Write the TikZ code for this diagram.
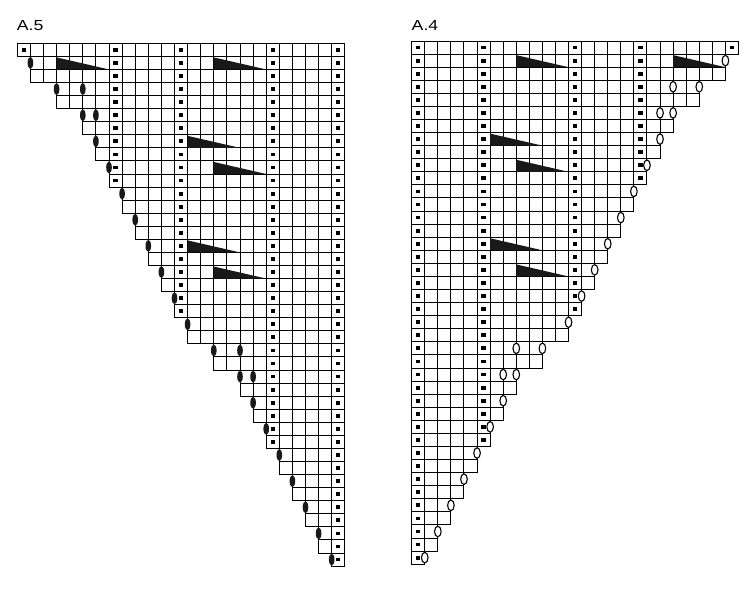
\documentclass[tikz,border=0pt]{standalone}
\usepackage{fontspec}
\setmainfont{Liberation Sans}
\tikzset{
  cellbox/.style={draw=black, line width=1pt},
  dotmark/.style={fill=black},
  wedge/.style={fill=black!90},
  blackeye/.style={fill=black!90},
  openeye/.style={draw=black, line width=1.1pt, fill=white},
  chartlabel/.style={font=\fontsize{14.5}{16}\selectfont, inner sep=0pt, anchor=base west, xscale=1.22, transform shape}
}
\begin{document}
\begin{tikzpicture}[x=1pt, y=-1pt]
\useasboundingbox (0,0) rectangle (750,590);
\node[chartlabel] (labA5) at (16.7,30.7) {A.5};
\node[chartlabel] (labA4) at (411.5,30.7) {A.4};
% ---------- A.5 (left chart) ----------
\begin{scope}[shift={(17.3pt,-43.3pt)}, x=13.1pt, y=-13.07pt]
  \foreach \L [count=\r from 0] in {0,1,1,3,3,5,5,6,6,7,7,8,8,9,9,10,10,11,11,12,12,13,13,15,15,17,17,18,18,19,19,20,20,21,21,22,22,23,23,24} {
    \foreach \c in {\L,...,24} {
      \draw[cellbox] (\c,\r) rectangle ++(1,1);
    }
    \foreach \c in {0,7,12,19,24} {
      \ifnum\c<\L\relax\else
        \fill[dotmark] (\c+0.5,\r+0.5) ++(-2.1pt,-1.9pt) rectangle ++(4.2pt,3.8pt);
      \fi
    }
  }
  \foreach \c/\r in {3/1,15/1,13/7,15/9,13/15,15/17} {
    \fill[wedge] (\c,\r+0.08) -- (\c,\r+1) -- (\c+4,\r+1) -- cycle;
  }
  \foreach \b/\r in {1/1,3/3,5/3,5/5,6/5,6/7,7/9,8/11,9/13,10/15,11/17,12/19,13/21,15/23,17/23,17/25,18/25,18/27,19/29,20/31,21/33,22/35,23/37,24/39} {
    \fill[blackeye] (\b,\r+0.5) ellipse [x radius=2.8pt, y radius=6pt];
  }
\end{scope}
% ---------- A.4 (right chart) ----------
\begin{scope}[shift={(411.7pt,-41pt)}, x=13.07pt, y=-13.08pt]
  \foreach \L [count=\r from 0] in {0,1,1,3,3,5,5,6,6,7,7,8,8,9,9,10,10,11,11,12,12,13,13,15,15,17,17,18,18,19,19,20,20,21,21,22,22,23,23,24} {
    \pgfmathtruncatemacro\R{24-\L}
    \foreach \c in {0,...,\R} {
      \draw[cellbox] (\c,\r) rectangle ++(1,1);
    }
    \foreach \c in {0,5,12,17,24} {
      \ifnum\c>\R\relax\else
        \fill[dotmark] (\c+0.5,\r+0.5) ++(-2.1pt,-1.9pt) rectangle ++(4.2pt,3.8pt);
      \fi
    }
  }
  \foreach \c/\r in {8/1,20/1,6/7,8/9,6/15,8/17} {
    \fill[wedge] (\c,\r+0.08) -- (\c,\r+1) -- (\c+4,\r+1) -- cycle;
  }
  \foreach \b/\r in {1/1,3/3,5/3,5/5,6/5,6/7,7/9,8/11,9/13,10/15,11/17,12/19,13/21,15/23,17/23,17/25,18/25,18/27,19/29,20/31,21/33,22/35,23/37,24/39} {
    \pgfmathtruncatemacro\bb{25-\b}
    \draw[openeye] (\bb,\r+0.5) ellipse [x radius=3.3pt, y radius=5.3pt];
  }
\end{scope}
\end{tikzpicture}
\end{document}
